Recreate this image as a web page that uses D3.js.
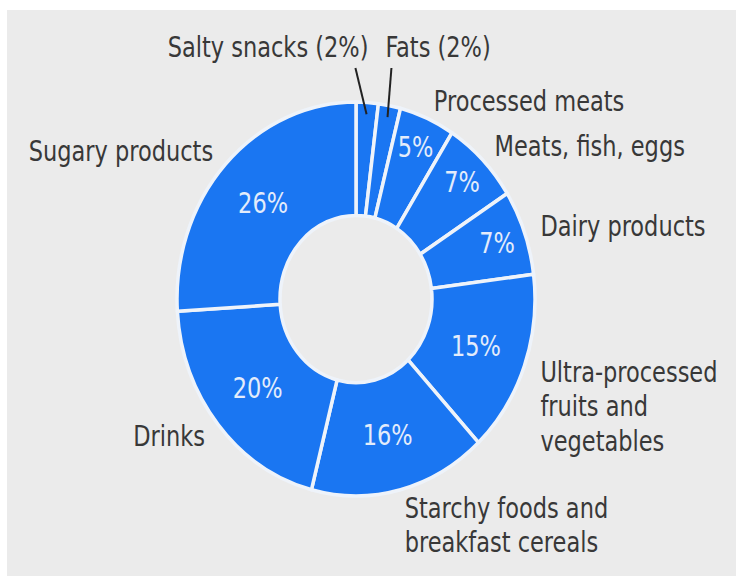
<!DOCTYPE html>
<html>
<head>
<meta charset="utf-8">
<script src="https://cdn.jsdelivr.net/npm/d3@7"></script>
<style>
    body { margin: 0; background: #fff; }
    text { font-family: "DejaVu Sans Condensed", "Liberation Sans Narrow", "DejaVu Sans", sans-serif; font-stretch: condensed; }
</style>
</head>
<body>
<svg id="chart"></svg>
<script>
const categories = ['Salty snacks', 'Fats', 'Processed meats', 'Meats, fish, eggs', 'Dairy products',
    'Ultra-processed fruits and vegetables', 'Starchy foods and breakfast cereals', 'Drinks', 'Sugary products'];
const shares = [2, 2, 5, 7, 7, 15, 16, 20, 26];
const labelLines = [
    ['Salty snacks (2%)'], ['Fats (2%)'], ['Processed meats'], ['Meats, fish, eggs'], ['Dairy products'],
    ['Ultra-processed', 'fruits and', 'vegetables'], ['Starchy foods and', 'breakfast cereals'],
    ['Drinks'], ['Sugary products']
];

const width = 736,
    height = 580,
    cx = 356,
    cy = 299,
    stretch = 1.1,
    inner = 76,
    outer = 179,
    labelR = 196,
    fontSize = 25,
    lineH = 31.4;

const svg = d3.select('#chart')
    .attr('width', width)
    .attr('height', height);

// panel
svg.append('rect')
    .attr('x', 7)
    .attr('y', 10)
    .attr('width', width - 7)
    .attr('height', height - 14)
    .attr('fill', '#ebebeb');

const g = svg.append('g')
    .attr('transform', `translate(${cx},${cy}) scale(1,${stretch})`);

const pie = d3.pie().sort(null).value(d => d);
const arcs = pie(shares);
const arc = d3.arc().innerRadius(inner).outerRadius(outer);

// slices
g.append('g')
    .selectAll('path')
    .data(arcs)
    .enter().append('path')
    .attr('d', arc)
    .attr('fill', '#1a76f2')
    .attr('stroke', '#eef3fa')
    .attr('stroke-width', 3.5)
    .attr('stroke-linejoin', 'round')
    .attr('vector-effect', 'non-scaling-stroke');

const mid = d => (d.startAngle + d.endAngle) / 2;
const isCallout = d => d.value <= 2;

// percentages inside the ring
g.append('g')
    .selectAll('text')
    .data(arcs.filter(d => !isCallout(d)))
    .enter().append('text')
    .attr('x', d => Math.sin(mid(d)) * (d.value < 10 ? 150 : 127.5))
    .attr('y', d => -Math.cos(mid(d)) * (d.value < 10 ? 150 : 127.5))
    .attr('dy', '0.36em')
    .attr('text-anchor', 'middle')
    .attr('fill', '#e3ecfb')
    .style('font-size', fontSize + 'px')
    .text(d => d.value + '%');

// outside labels
const labels = g.append('g')
    .attr('fill', '#383838')
    .style('font-size', fontSize + 'px');

arcs.filter(d => !isCallout(d)).forEach(d => {
    const a = mid(d),
        x = Math.sin(a) * labelR,
        y = -Math.cos(a) * labelR,
        t = labels.append('text')
            .attr('text-anchor', a < Math.PI ? 'start' : 'end');
    labelLines[d.index].forEach((line, j) => {
        t.append('tspan')
            .attr('x', x)
            .attr('y', y + j * lineH)
            .attr('dy', '0.36em')
            .text(line);
    });
});

// small slices: labels above the ring with leader lines
const callouts = arcs.filter(isCallout),
    split = Math.sin(callouts[0].endAngle) * outer,
    topY = -229;

callouts.forEach((d, k) => {
    const tx = k === 0 ? split - 10 : split + 7,
        a = mid(d);
    labels.append('text')
        .attr('x', tx)
        .attr('y', topY)
        .attr('dy', '0.36em')
        .attr('text-anchor', k === 0 ? 'end' : 'start')
        .text(labelLines[d.index][0]);
    g.append('line')
        .attr('x1', k === 0 ? tx - 13 : tx + 6)
        .attr('y1', topY + 19)
        .attr('x2', Math.sin(a) * outer * 0.94)
        .attr('y2', -Math.cos(a) * outer * 0.94)
        .attr('stroke', '#222')
        .attr('stroke-width', 2)
        .attr('vector-effect', 'non-scaling-stroke');
});
</script>
</body>
</html>
